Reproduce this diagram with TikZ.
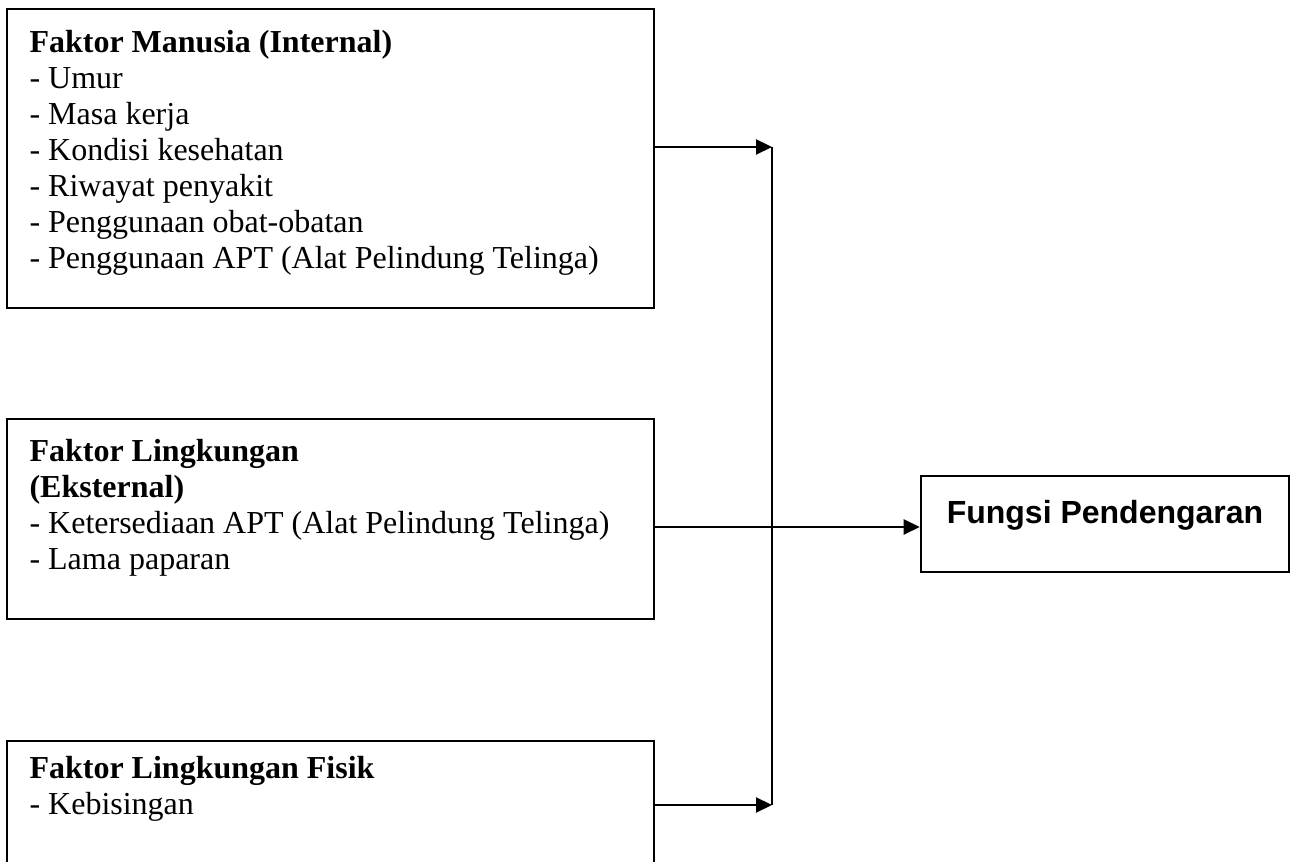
\documentclass[tikz,border=0pt]{standalone}
\usepackage{fontspec}
\setmainfont{Liberation Serif}
\newfontfamily\arialfont{Liberation Sans}
\usetikzlibrary{arrows.meta,fit}
\begin{document}
\begin{tikzpicture}[x=0.375pt,y=-0.375pt,
  box/.style={draw,line width=0.95pt,inner sep=0pt},
  txt/.style={anchor=north west,inner sep=0pt,align=left,font=\fontsize{12}{13.5}\selectfont},
  arr/.style={line width=0.95pt,-{Triangle[length=6pt,width=5.6pt]}},
  ln/.style={line width=0.95pt}]
\useasboundingbox (0,0) rectangle (1294,862);
\clip (0,0) rectangle (1294,862);
\node[box,fit={(7,9) (654,308)}] (b1) {};
\node[box,fit={(7,419) (654,619)}] (b2) {};
\node[box,fit={(7,741) (654,900)}] (b3) {};
\node[box,fit={(921,476) (1289,572)}] (out) {};
\node[txt] (t1) at (29,30) {\textbf{Faktor Manusia (Internal)}\\- Umur\\- Masa kerja\\- Kondisi kesehatan\\- Riwayat penyakit\\- Penggunaan obat-obatan\\- Penggunaan APT (Alat Pelindung Telinga)};
\node[txt] (t2) at (29,439) {\textbf{Faktor Lingkungan}\\\textbf{(Eksternal)}\\- Ketersediaan APT (Alat Pelindung Telinga)\\- Lama paparan};
\node[txt] (t3) at (29,756) {\textbf{Faktor Lingkungan Fisik}\\- Kebisingan};
\node[anchor=base,inner sep=0pt,font=\arialfont\bfseries\fontsize{12}{14}\selectfont] (t4) at (1105,524) {Fungsi Pendengaran};
\coordinate (vtop) at (772,147);
\coordinate (vbot) at (772,805);
\coordinate (mid) at (772,527);
\draw[ln] (vtop) -- (vbot);
\draw[arr] (b1.east |- vtop) -- (vtop);
\draw[arr] (b3.east |- vbot) -- (vbot);
\draw[arr] (b2.east |- mid) -- (out.west |- mid);
\end{tikzpicture}
\end{document}
